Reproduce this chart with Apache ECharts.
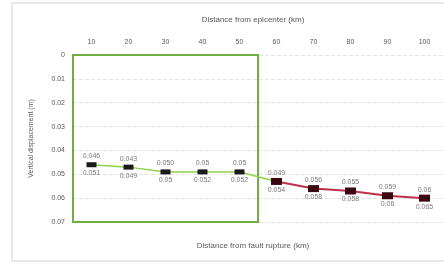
<!DOCTYPE html>
<html><head><meta charset="utf-8">
<script src="https://cdn.jsdelivr.net/npm/echarts@6/dist/echarts.min.js"></script>
<style>html,body{margin:0;padding:0;background:#fff}#c{width:444px;height:266px}</style>
</head><body><div id="c"></div>
<script>
const categories = ['10','20','30','40','50','60','70','80','90','100'];
const nearValues = [0.046, 0.047, 0.049, 0.049, 0.049, 0.053, null, null, null, null];
const farValues  = [null, null, null, null, null, 0.053, 0.056, 0.057, 0.059, 0.060];
const upperLabels = ['0.046','0.043','0.050','0.05','0.05','0.049','0.056','0.055','0.059','0.06'];
const lowerLabels = ['0.051','0.049','0.05','0.052','0.052','0.054','0.058','0.058','0.06','0.065'];
const yTicks = [0, 0.01, 0.02, 0.03, 0.04, 0.05, 0.06, 0.07];
const nearFieldBands = 5;
const topTitle = 'Distance from epicenter (km)';
const bottomTitle = 'Distance from fault rupture (km)';
const yName = 'Vertical displacement (m)';

const chart = echarts.init(document.getElementById('c'));
const lblStyle = {fontSize: 7, color: '#595959', fontFamily: 'Liberation Sans'};
function labelSeries(vals, arr, pos) {
  return {
    type: 'scatter', data: vals, symbolSize: 0, silent: true, z: 5,
    label: Object.assign({show: true, position: pos, distance: 5,
      formatter: p => arr[p.dataIndex]}, lblStyle)
  };
}
const allVals = nearValues.map((v, i) => v != null ? v : farValues[i]);
chart.setOption({
  animation: false,
  title: [
    {text: topTitle, left: 248, top: 11, textAlign: 'center',
     textStyle: {fontSize: 8, fontWeight: 'normal', color: '#595959', fontFamily: 'Liberation Sans'}},
    {text: bottomTitle, left: 248, top: 237, textAlign: 'center',
     textStyle: {fontSize: 8, fontWeight: 'normal', color: '#595959', fontFamily: 'Liberation Sans'}}
  ],
  graphic: [{type: 'rect', shape: {x: 12, y: 3, width: 440, height: 258},
    style: {fill: 'none', stroke: '#d0d0d0', lineWidth: 1}, silent: true}],
  grid: {left: 73, right: 1, top: 55, bottom: 44},
  xAxis: [{
    type: 'category', data: categories, position: 'top', boundaryGap: true,
    axisLine: {show: false}, axisTick: {show: false},
    axisLabel: {fontSize: 7, color: '#595959', margin: 9, fontFamily: 'Liberation Sans'},
    splitLine: {show: false}
  }, {
    type: 'value', min: 0, max: categories.length, show: false
  }],
  yAxis: {
    type: 'value', inverse: true, min: 0, max: 0.07, interval: 0.01,
    name: yName, nameLocation: 'middle', nameGap: 38, nameRotate: 90,
    nameTextStyle: {fontSize: 7, color: '#595959', fontFamily: 'Liberation Sans'},
    axisLine: {show: false}, axisTick: {show: false},
    axisLabel: {fontSize: 7, color: '#595959', margin: 8, fontFamily: 'Liberation Sans',
      formatter: v => { const t = yTicks.find(k => Math.abs(k - v) < 1e-9); return t === 0 ? '0' : (t != null ? t.toFixed(2) : ''); }},
    splitLine: {show: true, lineStyle: {color: '#e3e3e3', type: 'dashed', width: 1}}
  },
  series: [
    {
      type: 'line', data: nearValues, connectNulls: false, z: 3,
      lineStyle: {color: '#92d050', width: 1.5},
      symbol: 'rect', symbolSize: [10, 5], itemStyle: {color: '#1a1a1a'}
    },
    {
      type: 'line', data: farValues, z: 3,
      lineStyle: {color: '#c0304a', width: 2},
      symbol: 'rect', symbolSize: [11, 7], itemStyle: {color: '#3a0810'}
    },
    labelSeries(allVals, upperLabels, 'top'),
    labelSeries(allVals, lowerLabels, 'bottom'),
    {
      type: 'line', xAxisIndex: 1, data: [], silent: true,
      markArea: {silent: true, itemStyle: {color: 'rgba(0,0,0,0)', borderColor: '#70ad47', borderWidth: 2},
        data: [[{xAxis: 0, yAxis: 0}, {xAxis: nearFieldBands, yAxis: 0.07}]]}
    }
  ]
});
</script></body></html>
